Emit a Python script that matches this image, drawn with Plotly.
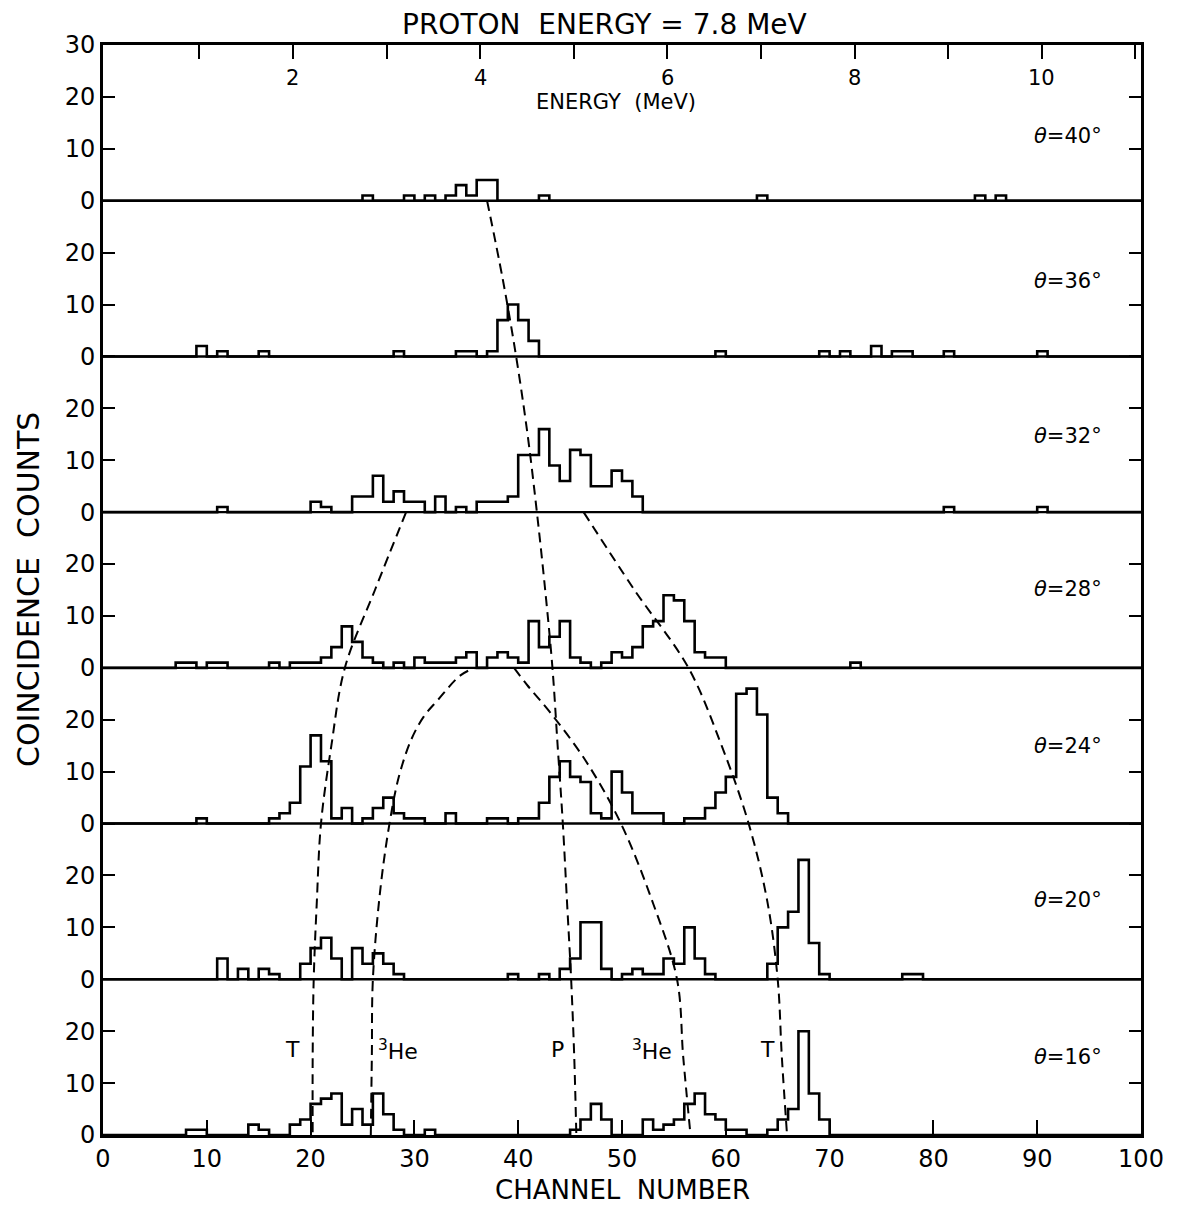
import plotly.graph_objects as go

# ---------------- data ----------------
angles = [40, 36, 32, 28, 24, 20, 16]          # top to bottom

ch40 = [25, 29, 31, 33, 34, 35, 36, 37, 42, 63, 84, 86]
n40 = [1, 1, 1, 1, 3, 1, 4, 4, 1, 1, 1, 1]

ch36 = [9, 11, 15, 28, 34, 35, 37, 38, 39, 40, 41, 59, 69, 71, 74, 76, 77, 81, 90]
n36 = [2, 1, 1, 1, 1, 1, 1, 7, 10, 7, 3, 1, 1, 1, 2, 1, 1, 1, 1]

ch32 = [11, 20, 21, 24, 25, 26, 27, 28, 29, 30, 32, 34, 36, 37, 38, 39, 40, 41, 42,
        43, 44, 45, 46, 47, 48, 49, 50, 51, 81, 90]
n32 = [1, 2, 1, 3, 3, 7, 2, 4, 2, 2, 3, 1, 2, 2, 2, 3, 11, 11, 16,
       9, 6, 12, 11, 5, 5, 8, 6, 3, 1, 1]

ch28 = [7, 8, 10, 11, 16, 18, 19, 20, 21, 22, 23, 24, 25, 26, 28, 30, 31, 32, 33, 34,
        35, 37, 38, 39, 40, 41, 42, 43, 44, 45, 46, 48, 49, 50, 51, 52, 53, 54, 55, 56,
        57, 58, 59, 72]
n28 = [1, 1, 1, 1, 1, 1, 1, 1, 2, 4, 8, 5, 2, 1, 1, 2, 1, 1, 1, 2,
       3, 2, 3, 2, 1, 9, 4, 6, 9, 2, 1, 1, 3, 2, 4, 8, 9, 14, 13, 9,
       3, 2, 2, 1]

ch24 = [9, 16, 17, 18, 19, 20, 21, 22, 23, 25, 26, 27, 28, 29, 30, 33, 37, 38, 40, 41,
        42, 43, 44, 45, 46, 47, 48, 49, 50, 51, 52, 53, 56, 57, 58, 59, 60, 61, 62, 63,
        64, 65]
n24 = [1, 1, 2, 4, 11, 17, 12, 1, 3, 1, 3, 5, 2, 1, 1, 2, 1, 1, 1, 1,
       4, 9, 12, 9, 8, 2, 1, 10, 6, 2, 2, 2, 1, 1, 3, 6, 9, 25, 26, 21,
       5, 2]

ch20 = [11, 13, 15, 16, 19, 20, 21, 22, 24, 25, 26, 27, 28, 39, 42, 44, 45, 46, 47, 48,
        50, 51, 52, 53, 54, 55, 56, 57, 58, 64, 65, 66, 67, 68, 69, 77, 78]
n20 = [4, 2, 2, 1, 3, 6, 8, 4, 6, 3, 5, 3, 1, 1, 1, 2, 4, 11, 11, 2,
       1, 2, 1, 1, 4, 3, 10, 4, 1, 3, 10, 13, 23, 7, 1, 1, 1]

ch16 = [8, 9, 14, 15, 18, 19, 20, 21, 22, 23, 24, 25, 26, 27, 28, 31, 45, 46, 47, 48,
        52, 53, 54, 55, 56, 57, 58, 59, 60, 61, 64, 65, 66, 67, 68, 69]
n16 = [1, 1, 2, 1, 2, 3, 6, 7, 8, 2, 5, 2, 8, 4, 1, 1, 1, 3, 6, 3,
       3, 1, 2, 3, 6, 8, 4, 3, 1, 1, 1, 3, 5, 20, 8, 3]

panel_channels = [ch40, ch36, ch32, ch28, ch24, ch20, ch16]
panel_counts = [n40, n36, n32, n28, n24, n20, n16]

PANEL_SPAN = 30            # each panel shows 0..30 counts
N_CHANNELS = 100

# angle label heights (counts within each panel)
angle_label_cnt = [12.5, 14.5, 14.6, 15.2, 15.0, 15.2, 15.0]

# dashed kinematic loci (channel, stacked count coordinate; 0 = bottom of 16 deg panel)
P_ch = [37.0, 38.5, 39.8, 40.9, 41.8, 42.6, 43.3, 43.8, 44.3, 44.7, 45.1, 45.4, 45.6]
P_y = [180, 165, 150, 135, 120, 105, 90, 75, 60, 45, 30, 15, 0]
T1_ch = [29.2, 26.2, 23.3, 22.0, 21.0, 20.6, 20.3, 20.2, 20.2]
T1_y = [120, 105, 90, 75, 60, 45, 30, 15, 0]
He1_ch = [25.8, 25.9, 26.0, 26.7, 27.6, 28.5, 29.7, 30.9, 32.3, 34.4, 35.8]
He1_y = [0, 15, 30, 47, 60, 69.0, 76.2, 80.6, 83.9, 88.5, 90]
He2_ch = [39.6, 40.9, 43.0, 46.5, 49.9, 53.0, 55.3, 55.9, 56.6]
He2_y = [90, 86.6, 81.6, 72.1, 60, 44.6, 30, 15, 0]
T2_ch = [46.3, 51.2, 56.4, 59.6, 62.2, 64.0, 65.0, 65.4, 65.9]
T2_y = [120, 105, 90, 75, 60, 45, 30, 15, 0]
loci = [(P_ch, P_y), (T1_ch, T1_y), (He1_ch, He1_y), (He2_ch, He2_y), (T2_ch, T2_y)]

# particle labels in the 16 deg panel
label_text = ["T", "<sup>3</sup>He", "P", "<sup>3</sup>He", "T"]
label_ch = [18.3, 28.4, 43.8, 52.9, 64.0]
label_cnt = [16.4, 16.4, 16.4, 16.4, 16.4]

# energy scale (top)
energy_ticks = [1, 2, 3, 4, 5, 6, 7, 8, 9, 10, 11]
energy_labels = [2, 4, 6, 8, 10]
energy_range = [-0.029, 11.06]

x_ticks = [0, 10, 20, 30, 40, 50, 60, 70, 80, 90, 100]

FONT = "DejaVu Sans, Liberation Sans, sans-serif"

# ---------------- figure ----------------
fig = go.Figure()
n_panels = len(angles)
offsets = [(n_panels - 1 - i) * PANEL_SPAN for i in range(n_panels)]

for chs, cnts, off in zip(panel_channels, panel_counts, offsets):
    counts = [0] * N_CHANNELS
    for c, n in zip(chs, cnts):
        counts[c] = n
    xs = list(range(N_CHANNELS + 1))
    ys = [off + v for v in counts] + [off + counts[-1]]
    fig.add_trace(go.Scatter(x=xs, y=ys, mode="lines", line_shape="hv",
                             line=dict(color="black", width=2.6),
                             hoverinfo="skip", showlegend=False))

for lx, ly in loci:
    fig.add_trace(go.Scatter(x=lx, y=ly, mode="lines", line_shape="spline",
                             line=dict(color="black", width=2, dash="10px,6px"),
                             hoverinfo="skip", showlegend=False))

# invisible trace carrying the top energy axis
fig.add_trace(go.Scatter(x=energy_range, y=[None, None], xaxis="x2", mode="lines",
                         hoverinfo="skip", showlegend=False))

# panel separating zero lines
for off in offsets[:-1]:
    fig.add_shape(type="line", xref="paper", x0=0, x1=1, yref="y", y0=off, y1=off,
                  line=dict(color="black", width=2.4))

annotations = []
for ang, off, h in zip(angles, offsets, angle_label_cnt):
    annotations.append(dict(x=93, y=off + h, xref="x", yref="y",
                            text=f"<i>θ</i>={ang}°", showarrow=False,
                            font=dict(size=21, family=FONT, color="black")))
for t, c, n in zip(label_text, label_ch, label_cnt):
    annotations.append(dict(x=c, y=n, xref="x", yref="y", text=t, showarrow=False,
                            font=dict(size=22, family=FONT, color="black")))
top = n_panels * PANEL_SPAN
for e in energy_labels:
    annotations.append(dict(x=e, y=top - 6.4, xref="x2", yref="y", text=str(e),
                            showarrow=False,
                            font=dict(size=21, family=FONT, color="black")))
annotations.append(dict(x=5.45, y=top - 11.0, xref="x2", yref="y", text="ENERGY  (MeV)",
                        showarrow=False, font=dict(size=21, family=FONT, color="black")))
annotations.append(dict(x=0.483, y=1.0, xref="paper", yref="paper", yanchor="bottom",
                        yshift=2, text="PROTON  ENERGY = 7.8 MeV", showarrow=False,
                        font=dict(size=28, family=FONT, color="black")))
annotations.append(dict(x=-0.091, y=0.50, xref="paper", yref="paper",
                        text="COINCIDENCE  COUNTS", textangle=-90, showarrow=False,
                        font=dict(size=30, family=FONT, color="black")))
annotations.append(dict(x=0.5, y=0, xref="paper", yref="paper", yanchor="top",
                        yshift=-38, text="CHANNEL  NUMBER", showarrow=False,
                        font=dict(size=26, family=FONT, color="black")))

ytickvals = []
yticktext = []
for off in reversed(offsets):
    for v in (0, 10, 20):
        ytickvals.append(off + v)
        yticktext.append(str(v))
ytickvals.append(top)
yticktext.append(str(PANEL_SPAN))

fig.update_layout(
    width=1189, height=1207,
    margin=dict(l=103, r=48, t=45, b=72),
    paper_bgcolor="white", plot_bgcolor="white",
    font=dict(family=FONT, color="black"),
    annotations=annotations,
    xaxis=dict(range=[0, N_CHANNELS], tickvals=x_ticks,
               ticktext=[str(v) for v in x_ticks],
               ticks="inside", ticklen=15, tickwidth=2, tickcolor="black",
               showline=True, linewidth=2.8, linecolor="black", mirror=True,
               showgrid=False, zeroline=False, tickfont=dict(size=24, family=FONT)),
    xaxis2=dict(range=energy_range, overlaying="x", side="top", tickvals=energy_ticks,
                showticklabels=False, ticks="inside", ticklen=14, tickwidth=2,
                tickcolor="black", showline=False, showgrid=False, zeroline=False),
    yaxis=dict(range=[0, top], tickvals=ytickvals, ticktext=yticktext,
               ticks="inside", ticklen=12, tickwidth=2, tickcolor="black",
               showline=True, linewidth=2.8, linecolor="black", mirror="ticks",
               showgrid=False, zeroline=False, tickfont=dict(size=24, family=FONT)),
)

fig.write_html("out.html")
